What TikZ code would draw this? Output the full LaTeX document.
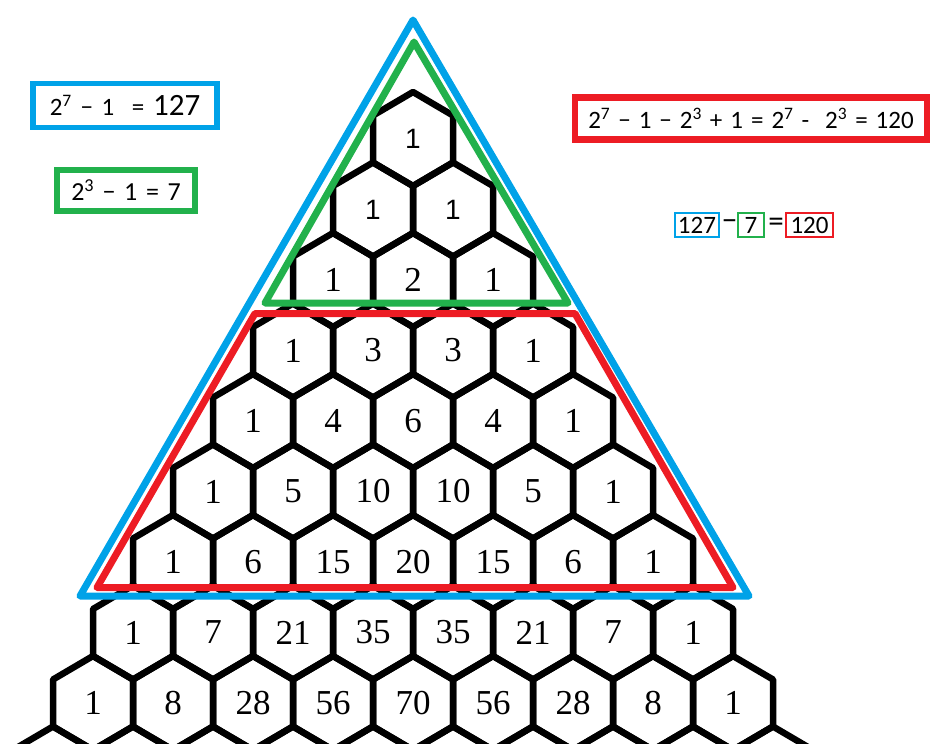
\documentclass[tikz,border=0pt]{standalone}
\usepackage{fontspec}
\setmainfont{Liberation Serif}
\newfontfamily\eqfont{Carlito}
\newfontfamily\topfont{Liberation Sans}
\usepackage{xcolor}
\usepackage{tikz}
\usetikzlibrary{positioning}
\definecolor{outerblue}{RGB}{0, 162, 232}
\definecolor{innergreen}{RGB}{34, 177, 76}
\definecolor{bandred}{RGB}{237, 28, 36}
\newcommand{\widesp}[1]{\spaceskip=#1\relax}

\begin{document}
\begin{tikzpicture}[x=1pt, y=-1pt,
  cell/.style={line width=6.5pt, line join=round},
  num/.style={inner sep=0pt, font=\fontsize{35}{40}\selectfont},
  frame/.style={line width=7pt, line join=round},
  eqbox/.style={draw, line width=5.5pt, inner sep=0pt, font=\eqfont\fontsize{25}{29}\selectfont},
  tinybox/.style={draw, line width=2pt, inner sep=0pt, minimum height=24pt, font=\eqfont\fontsize{25}{28}\selectfont},
  tinyop/.style={inner sep=0pt, font=\eqfont\fontsize{31}{34}\selectfont}]
\useasboundingbox (0,0) rectangle (935,744);
\clip (0,0) rectangle (935,744);

% Honeycomb
\foreach \r in {0,...,9}
  \foreach \k in {0,...,\r}
    \draw[cell] ({413+80*(\k-\r/2)},{139+70.5*\r}) ++(0,-47) -- ++(40,23.5) -- ++(0,47)
      -- ++(-40,23.5) -- ++(-40,-23.5) -- ++(0,-47) -- cycle;

% Numbers
\foreach \r/\vals in {0/{1}, 1/{1,1}, 2/{1,2,1}, 3/{1,3,3,1}, 4/{1,4,6,4,1},
    5/{1,5,10,10,5,1}, 6/{1,6,15,20,15,6,1}, 7/{1,7,21,35,35,21,7,1},
    8/{1,8,28,56,70,56,28,8,1}}
  \foreach \v [count=\k from 0] in \vals
    \node[num] (c\r-\k) at ({413+80*(\k-\r/2)},{139+70.5*\r})
      {\ifnum\r<2 \topfont\fontsize{28}{32}\selectfont\fi\v};

% Triangles
\draw[frame, outerblue] (413,20) -- (80,596) -- (749,596) -- cycle;
\draw[frame, innergreen] (414,42) -- (265,303) -- (568,303) -- cycle;
\draw[frame, bandred] (255,313.5) -- (575,313.5) -- (733,587.5) -- (97,587.5) -- cycle;

% Sums
\node[eqbox, draw=outerblue, minimum width=184pt, minimum height=44pt] (bluesum) at (125,105.5)
  {\widesp{0.35em}2\textsuperscript{7} − 1 \ = {\fontsize{31}{34}\selectfont 127}};
\node[eqbox, draw=innergreen, font=\eqfont\fontsize{26}{30}\selectfont,
  minimum width=138pt, minimum height=41pt] (greensum) at (126,190.5)
  {\widesp{0.33em}2\textsuperscript{3} − 1 = 7};
\node[eqbox, draw=bandred, line width=6.5pt, minimum width=352pt, minimum height=42pt] (redsum) at (751,118.5)
  {\widesp{0.32em}2\textsuperscript{7} − 1 − 2\textsuperscript{3} + 1 = 2\textsuperscript{7} -\ \ 2\textsuperscript{3} = 120};

% Difference
\node[tinybox, draw=outerblue, minimum width=44pt] (d127) at (697,225) {127};
\node[tinyop] (dminus) at (729.5,225) {−};
\node[tinybox, draw=innergreen, minimum width=26pt] (d7) at (751,225) {7};
\node[tinyop] (dequals) at (776,225) {=};
\node[tinybox, draw=bandred, minimum width=47pt] (d120) at (809.5,225) {120};
\end{tikzpicture}
\end{document}
